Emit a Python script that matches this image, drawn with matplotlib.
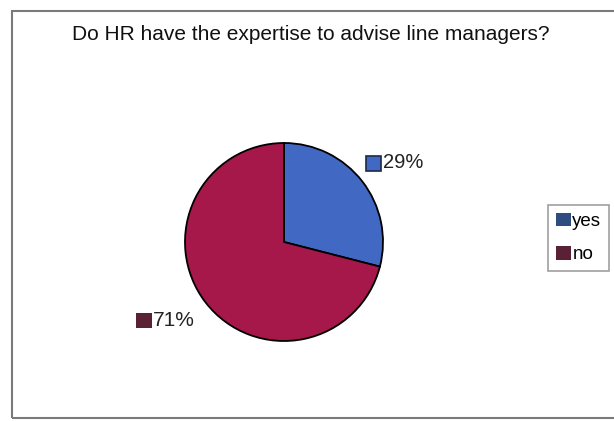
import matplotlib.pyplot as plt
from matplotlib.patches import Rectangle, Patch

labels = ['yes', 'no']
values = [29, 71]
slice_colors = ['#4169c4', '#a6174a']
key_colors = ['#2c4d7e', '#5a2136']
title = 'Do HR have the expertise to advise line managers?'

plt.rcParams['font.family'] = ['Liberation Sans', 'DejaVu Sans']

fig = plt.figure(figsize=(6.14, 4.21), dpi=100)
ax = fig.add_axes([0, 0, 1, 1])

# pie in pixel units, centre and radius picked to sit in the frame
cx, cy, r = 284, 179, 99
wedges, _ = ax.pie(values, colors=slice_colors, startangle=90, counterclock=False,
                   center=(cx, cy), radius=r,
                   wedgeprops=dict(edgecolor='black', linewidth=1.3))
ax.set_xlim(0, 614)
ax.set_ylim(0, 421)
ax.set_aspect('auto')
ax.axis('off')

# outer chart frame
ax.add_patch(Rectangle((12, 3), 640, 407, fill=False, edgecolor='#7a7a7a', linewidth=1.5))

# percentage labels with small colour keys
pcts = ['%d%%' % v for v in values]
ax.add_patch(Rectangle((366, 250), 15, 15, facecolor=slice_colors[0], edgecolor='#1a2a4a', linewidth=1.2))
ax.text(383, 258, pcts[0], fontsize=14.5, va='center', ha='left', color='#222222')
ax.add_patch(Rectangle((136, 93), 16, 15, facecolor=key_colors[1], edgecolor='none'))
ax.text(153, 100, pcts[1], fontsize=15, va='center', ha='left', color='#222222')

ax.text(311, 387, title, fontsize=15, ha='center', va='center', color='#111111')

handles = [Patch(facecolor=c, edgecolor='none') for c in key_colors]
leg = ax.legend(handles, labels, loc='upper left', bbox_to_anchor=(548 / 614, 1 - 205 / 421),
                fontsize=13.5, frameon=True, fancybox=False, handlelength=0.85, handleheight=0.75,
                handletextpad=0.05, labelspacing=0.85, borderpad=0.4, borderaxespad=0)
leg.get_frame().set_edgecolor('#888888')
leg.get_frame().set_linewidth(1.2)

fig.savefig('out.png', dpi=100)
